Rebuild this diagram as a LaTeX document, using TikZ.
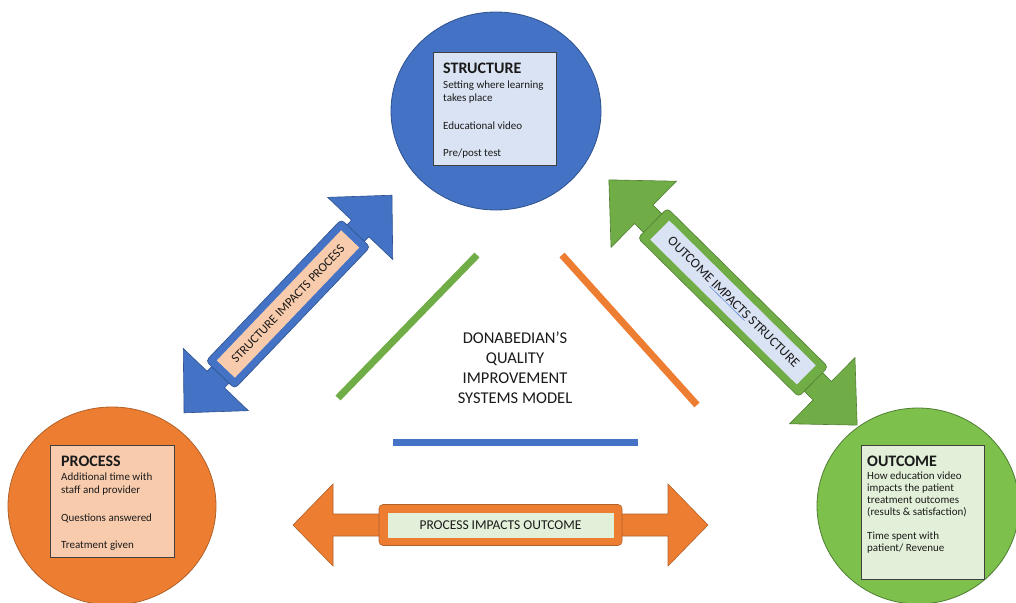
\documentclass[tikz,border=0pt]{standalone}
\usepackage{fontspec}
\setmainfont{Carlito}
\usetikzlibrary{shapes.geometric}
\definecolor{sblue}{HTML}{4472C4}
\definecolor{sblueD}{HTML}{2F528F}
\definecolor{porange}{HTML}{ED7D31}
\definecolor{porangeD}{HTML}{B0612A}
\definecolor{ogreen}{HTML}{70AD47}
\definecolor{ogreenC}{HTML}{7DC04C}
\definecolor{ogreenD}{HTML}{507E32}
\definecolor{sboxfill}{HTML}{DAE3F3}
\definecolor{pboxfill}{HTML}{F8CBAD}
\definecolor{oboxfill}{HTML}{E2F0D9}
\definecolor{boxline}{HTML}{404040}
\definecolor{txt}{HTML}{1A1A1A}
% #1 length, #2 head length, #3 head width, #4 shaft width, #5 style
\newcommand\dblarrowshape[5]{%
  \draw[#5] (-#1/2,0) -- (-#1/2+#2,#3/2) -- (-#1/2+#2,#4/2) -- (#1/2-#2,#4/2)
    -- (#1/2-#2,#3/2) -- (#1/2,0) -- (#1/2-#2,-#3/2) -- (#1/2-#2,-#4/2)
    -- (-#1/2+#2,-#4/2) -- (-#1/2+#2,-#3/2) -- cycle;}
\begin{document}
\begin{tikzpicture}[x=1pt,y=-1pt,
  circ/.style={ellipse, inner sep=0pt, outer sep=0pt, line width=0.8pt},
  infobox/.style={rectangle, draw=boxline, line width=0.7pt, inner sep=0pt, anchor=north west},
  headtxt/.style={anchor=base west, inner sep=0pt, font=\fontsize{16}{18}\selectfont\bfseries, text=txt},
  bodytxt/.style={anchor=base west, inner sep=0pt, font=\fontsize{11}{13.7}\selectfont, text=txt},
  lbl/.style={inner sep=0pt, text=txt},
  titletxt/.style={align=center, inner sep=0pt, font=\fontsize{16.5}{20}\selectfont, text=txt},
  midline/.style={line width=7pt},
  ]
\useasboundingbox (0,0) rectangle (1016,602);
\clip (0,0) rectangle (1016,602);

% circles
\node[circ, fill=sblue, draw=sblueD, minimum width=210pt, minimum height=198pt] (structure) at (496,111) {};
\node[circ, fill=porange, draw=porangeD, minimum width=208pt, minimum height=198pt] (process) at (112,506) {};
\node[circ, fill=ogreenC, draw=ogreenD, minimum width=202pt, minimum height=196pt] (outcome) at (918,506) {};

% structure <-> process arrow
\begin{scope}[shift={(288,304)}, rotate=46.3]
  \dblarrowshape{301}{46}{90}{24}{fill=sblue, draw=sblueD, line width=0.6pt}
  \draw[fill=sblue, draw=sblueD, line width=0.6pt, rounded corners=4pt] (-98,-20) rectangle (98,20);
\end{scope}
\node[lbl, rotate=46.3, fill=pboxfill, minimum width=180pt, minimum height=25pt,
  font=\fontsize{12.6}{14}\selectfont] (splabel) at (288,304) {STRUCTURE IMPACTS PROCESS};

% outcome <-> structure arrow
\begin{scope}[shift={(733,302.5)}, rotate=-44.65]
  \dblarrowshape{349}{49}{93}{26}{fill=ogreen, draw=ogreenD, line width=0.6pt}
  \draw[fill=ogreen, draw=ogreenD, line width=0.6pt, rounded corners=4pt] (-113,-21) rectangle (113,21);
\end{scope}
\node[lbl, rotate=-44.65, fill=sboxfill, minimum width=206pt, minimum height=27pt,
  font=\fontsize{13.6}{15}\selectfont] (oslabel) at (733,302.5)
  {OUTCOME \textcolor{sblue}{\underline{\textcolor{txt}{IMPACTS}}} STRUCTURE};

% process <-> outcome arrow
\begin{scope}[shift={(500.5,525)}]
  \dblarrowshape{415}{40}{82}{22}{fill=porange, draw=porangeD, line width=0.6pt}
  \draw[fill=porange, draw=porangeD, line width=0.6pt, rounded corners=4pt] (-121.5,-20.5) rectangle (121.5,20.5);
\end{scope}
\node[lbl, fill=oboxfill, minimum width=226pt, minimum height=25pt,
  font=\fontsize{13.5}{15}\selectfont] (polabel) at (500.5,525) {PROCESS IMPACTS OUTCOME};

% info boxes
\node[infobox, fill=sboxfill, minimum width=123pt, minimum height=113pt] (sbox) at (433,52) {};
\node[headtxt] (shead) at (443,74) {STRUCTURE};
\node[bodytxt] (sbody) at (443,88) {\begin{tabular}[t]{@{}l@{}}Setting where learning\\takes place\\ \\Educational video\\ \\Pre/post test\end{tabular}};

\node[infobox, fill=pboxfill, minimum width=124pt, minimum height=112pt] (pbox) at (50,445) {};
\node[headtxt] (phead) at (61,466) {PROCESS};
\node[bodytxt] (pbody) at (61,480) {\begin{tabular}[t]{@{}l@{}}Additional time with\\staff and provider\\ \\Questions answered\\ \\Treatment given\end{tabular}};

\node[infobox, fill=oboxfill, minimum width=123pt, minimum height=134pt] (obox) at (861,445) {};
\node[headtxt] (ohead) at (867,466) {OUTCOME};
\node[bodytxt, font=\fontsize{11}{12}\selectfont] (obody) at (867,479) {\begin{tabular}[t]{@{}l@{}}How education video\\impacts the patient\\treatment outcomes\\(results \& satisfaction)\\ \\Time spent with\\patient/ Revenue\end{tabular}};

% central triangle lines
\coordinate (g1) at (338,398);
\coordinate (g2) at (477,255);
\coordinate (o1) at (562,255);
\coordinate (o2) at (697,405);
\coordinate (b1) at (393,442);
\coordinate (b2) at (638,442);
\draw[midline, draw=ogreen] (g1) -- (g2);
\draw[midline, draw=porange] (o1) -- (o2);
\draw[midline, draw=sblue] (b1) -- (b2);

\node[titletxt] (model) at (515,368) {DONABEDIAN’S\\QUALITY\\IMPROVEMENT\\SYSTEMS MODEL};
\end{tikzpicture}
\end{document}
